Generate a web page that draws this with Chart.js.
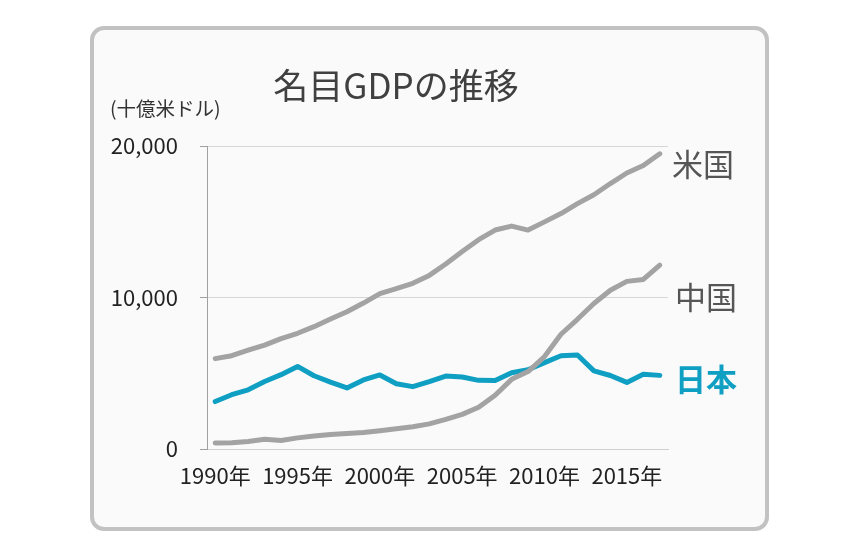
<!DOCTYPE html>
<html>
<head>
<meta charset="utf-8">
<script src="https://cdn.jsdelivr.net/npm/chart.js@4/dist/chart.umd.min.js"></script>
<style>
  html, body { margin: 0; padding: 0; background: #fff; }
  #wrap { width: 860px; height: 560px; }
</style>
</head>
<body>
<div id="wrap"><canvas id="gdpChart" width="860" height="560"></canvas></div>
<script>
// 名目GDP (十億米ドル), 1990-2017
var years = [1990, 1991, 1992, 1993, 1994, 1995, 1996, 1997, 1998, 1999,
             2000, 2001, 2002, 2003, 2004, 2005, 2006, 2007, 2008, 2009,
             2010, 2011, 2012, 2013, 2014, 2015, 2016, 2017];
var usGdp = [5963, 6158, 6520, 6859, 7287, 7640, 8073, 8578, 9063, 9631,
             10252, 10582, 10936, 11458, 12214, 13037, 13815, 14452, 14713, 14449,
             14992, 15543, 16197, 16785, 17522, 18219, 18707, 19485];
var chinaGdp = [397, 415, 494, 640, 560, 734, 864, 962, 1029, 1094,
                1211, 1339, 1471, 1660, 1955, 2286, 2752, 3552, 4598, 5110,
                6101, 7573, 8561, 9607, 10482, 11065, 11191, 12135];
var japanGdp = [3133, 3584, 3909, 4454, 4907, 5449, 4833, 4414, 4033, 4562,
                4888, 4304, 4115, 4445, 4815, 4755, 4530, 4515, 5038, 5231,
                5700, 6157, 6203, 5156, 4850, 4395, 4927, 4860];
var yTicks = [0, 10000, 20000];

var grey = '#a3a3a3';
var teal = '#0f9fc3';
var fontJP = '"Noto Sans CJK JP", "Noto Sans", sans-serif';

var labels = years.map(function (y) { return y + '年'; });

// 枠とテキスト
var framePlugin = {
  id: 'frame',
  beforeDraw: function (chart) {
    var c = chart.ctx;
    c.save();
    c.fillStyle = '#fff';
    c.fillRect(0, 0, chart.width, chart.height);
    c.beginPath();
    c.roundRect(92, 28, 675, 501, 12);
    c.fillStyle = '#fafafa';
    c.fill();
    c.lineWidth = 4;
    c.strokeStyle = '#c2c2c2';
    c.stroke();
    c.restore();
  },
  afterDraw: function (chart) {
    var c = chart.ctx;
    c.save();
    c.textBaseline = 'middle';
    c.fillStyle = '#404040';
    c.font = '35px ' + fontJP;
    c.textAlign = 'center';
    c.fillText('名目GDPの推移', 396, 86);
    c.textAlign = 'left';
    c.fillStyle = '#333';
    c.font = '19.5px ' + fontJP;
    c.fillText('(十億米ドル)', 110, 109);
    c.fillStyle = '#555';
    c.font = '31px ' + fontJP;
    c.fillText('米国', 672, 164);
    c.fillText('中国', 675, 297);
    c.fillStyle = teal;
    c.font = 'bold 31px ' + fontJP;
    c.fillText('日本', 675, 379);
    c.restore();
  }
};

var ctx = document.getElementById('gdpChart').getContext('2d');
var chart = new Chart(ctx, {
  type: 'line',
  data: {
    labels: labels,
    datasets: [
      { label: '米国', data: usGdp, borderColor: grey },
      { label: '中国', data: chinaGdp, borderColor: grey },
      { label: '日本', data: japanGdp, borderColor: teal }
    ]
  },
  options: {
    responsive: false,
    animation: false,
    layout: { padding: { left: 0, top: 146, right: 192, bottom: 61 } },
    elements: {
      line: { borderWidth: 5, tension: 0, borderCapStyle: 'round', borderJoinStyle: 'round' },
      point: { radius: 0 }
    },
    plugins: {
      legend: { display: false },
      tooltip: { enabled: false }
    },
    scales: {
      x: {
        offset: true,
        grid: { display: false },
        border: { color: '#cfcfcf', width: 1 },
        afterFit: function (s) { s.height = 50; },
        ticks: {
          autoSkip: false,
          maxRotation: 0,
          padding: 5,
          color: '#222',
          font: { family: fontJP, size: 22 },
          callback: function (v, i) { return years[i] % 5 === 0 ? labels[i] : ''; }
        }
      },
      y: {
        min: 0,
        max: 20000,
        afterFit: function (s) { s.width = 207; },
        afterBuildTicks: function (s) { s.ticks = yTicks.map(function (v) { return { value: v }; }); },
        grid: { color: '#d6d6d6', tickLength: 7, tickColor: '#a0a0a0' },
        border: { color: '#a0a0a0', width: 1 },
        ticks: {
          padding: 22,
          color: '#222',
          font: { family: fontJP, size: 22 },
          callback: function (v) { return v.toLocaleString('en-US'); }
        }
      }
    }
  },
  plugins: [framePlugin]
});
</script>
</body>
</html>
